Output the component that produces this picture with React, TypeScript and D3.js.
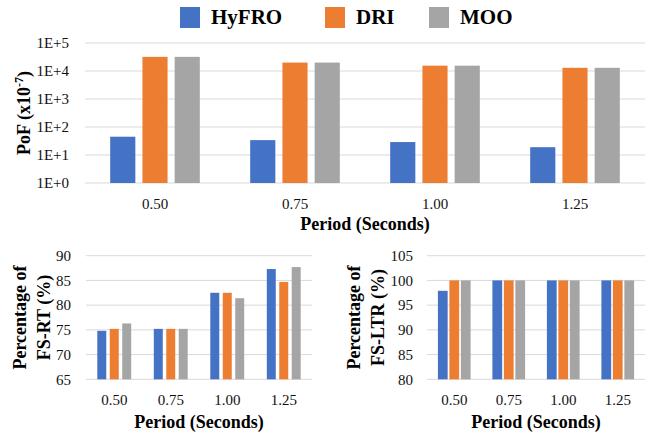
import * as d3 from 'd3';
import React from 'react';

const periods = ["0.50", "0.75", "1.00", "1.25"];
const seriesNames = ["HyFRO", "DRI", "MOO"];
const seriesColors = ["#4472C4", "#ED7D31", "#A5A5A5"];

// PoF (x10^-7), log axis
const pofHyFRO = [45, 34, 29, 19];
const pofDRI = [32000, 20000, 15500, 13000];
const pofMOO = [32000, 20000, 15500, 13000];
const pofTicks = [1, 10, 100, 1000, 10000, 100000];

// Percentage of FS-RT (%)
const fsrtHyFRO = [74.8, 75.2, 82.5, 87.3];
const fsrtDRI = [75.2, 75.2, 82.5, 84.7];
const fsrtMOO = [76.3, 75.2, 81.4, 87.7];
const fsrtTicks = [65, 70, 75, 80, 85, 90];

// Percentage of FS-LTR (%)
const fsltrHyFRO = [97.9, 100, 100, 100];
const fsltrDRI = [100, 100, 100, 100];
const fsltrMOO = [100, 100, 100, 100];
const fsltrTicks = [80, 85, 90, 95, 100, 105];

const FONT = "'Liberation Serif', 'Times New Roman', serif";
const GRID = "#D9D9D9";

interface PanelProps {
  values: number[][];
  ticks: number[];
  log?: boolean;
  x0: number;
  x1: number;
  yTop: number;
  yBottom: number;
  groupPad: number;
  barPad: number;
  tickFormat: (v: number) => string;
  tickLabelX: number;
  tickBaseline: number;
  titleBaseline: number;
}

const Panel: React.FC<PanelProps> = ({
  values, ticks, log, x0, x1, yTop, yBottom, groupPad, barPad,
  tickFormat, tickLabelX, tickBaseline, titleBaseline
}) => {
  const xScale = d3.scaleBand<string>()
    .domain(periods)
    .range([x0, x1])
    .paddingInner(groupPad)
    .paddingOuter(groupPad / 2);

  const xInner = d3.scaleBand<string>()
    .domain(seriesNames)
    .range([0, xScale.bandwidth()])
    .paddingInner(barPad);

  const domain = d3.extent(ticks) as [number, number];
  const yScale = log
    ? d3.scaleLog().domain(domain).range([yBottom, yTop])
    : d3.scaleLinear().domain(domain).range([yBottom, yTop]);

  return (
    <g>
      {ticks.map(t => (
        <g key={t}>
          <line x1={x0} x2={x1} y1={yScale(t)} y2={yScale(t)} stroke={GRID} strokeWidth={1} />
          <text x={tickLabelX} y={yScale(t)} dy="0.35em" textAnchor="end"
            fontSize={15} fill="#111">{tickFormat(t)}</text>
        </g>
      ))}
      {periods.map((p, i) => (
        <g key={p} transform={`translate(${xScale(p)},0)`}>
          {seriesNames.map((s, j) => (
            <rect key={s}
              x={xInner(s)}
              y={yScale(values[j][i])}
              width={xInner.bandwidth()}
              height={yBottom - yScale(values[j][i])}
              fill={seriesColors[j]} />
          ))}
        </g>
      ))}
      {periods.map(p => (
        <text key={p} x={xScale(p)! + xScale.bandwidth() / 2} y={tickBaseline}
          textAnchor="middle" fontSize={15} fill="#111">{p}</text>
      ))}
      <text x={(x0 + x1) / 2} y={titleBaseline} textAnchor="middle"
        fontSize={18} fontWeight="bold" fill="#000">Period (Seconds)</text>
    </g>
  );
};

const App: React.FC = () => {
  const legendX = [180, 325, 429];
  return (
    <svg width={651} height={437} style={{ position: "absolute", left: 0, top: 0, background: "#fff" }}
      fontFamily={FONT}>
      {/* legend */}
      {seriesNames.map((s, i) => (
        <g key={s} transform={`translate(${legendX[i]},7)`}>
          <rect width={20} height={21} fill={seriesColors[i]} />
          <text x={31} y={17} fontSize={21} fontWeight="bold" fill="#000">{s}</text>
        </g>
      ))}

      {/* top: PoF */}
      <Panel
        values={[pofHyFRO, pofDRI, pofMOO]}
        ticks={pofTicks}
        log
        x0={85} x1={645} yTop={43} yBottom={183}
        groupPad={0.36} barPad={0.22}
        tickFormat={v => `1E+${Math.round(Math.log10(v))}`}
        tickLabelX={69}
        tickBaseline={209}
        titleBaseline={230}
      />
      <text transform="translate(30,113) rotate(-90)" textAnchor="middle"
        fontSize={18} fontWeight="bold" fill="#000">
        PoF (x10<tspan fontSize={12} dy={-7}>-7</tspan><tspan dy={7}>)</tspan>
      </text>

      {/* bottom left: FS-RT */}
      <Panel
        values={[fsrtHyFRO, fsrtDRI, fsrtMOO]}
        ticks={fsrtTicks}
        x0={86} x1={312} yTop={255.7} yBottom={379.3}
        groupPad={0.4} barPad={0.28}
        tickFormat={v => `${v}`}
        tickLabelX={71}
        tickBaseline={405}
        titleBaseline={428}
      />
      <text transform="translate(26,317.5) rotate(-90)" textAnchor="middle"
        fontSize={18} fontWeight="bold" fill="#000">Percentage of</text>
      <text transform="translate(50,317.5) rotate(-90)" textAnchor="middle"
        fontSize={18} fontWeight="bold" fill="#000">FS-RT (%)</text>

      {/* bottom right: FS-LTR */}
      <Panel
        values={[fsltrHyFRO, fsltrDRI, fsltrMOO]}
        ticks={fsltrTicks}
        x0={427} x1={645} yTop={255.7} yBottom={379.3}
        groupPad={0.4} barPad={0.15}
        tickFormat={v => `${v}`}
        tickLabelX={413}
        tickBaseline={405}
        titleBaseline={428}
      />
      <text transform="translate(360,317.5) rotate(-90)" textAnchor="middle"
        fontSize={18} fontWeight="bold" fill="#000">Percentage of</text>
      <text transform="translate(384,317.5) rotate(-90)" textAnchor="middle"
        fontSize={18} fontWeight="bold" fill="#000">FS-LTR (%)</text>
    </svg>
  );
};

export default App;
